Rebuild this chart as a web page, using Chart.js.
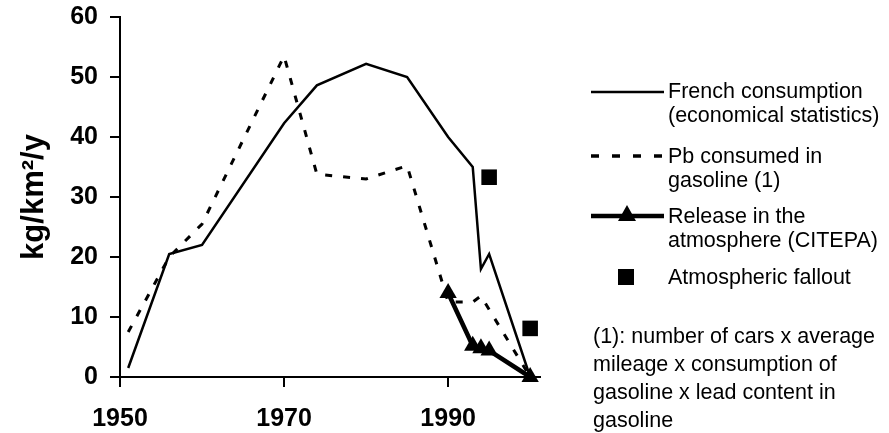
<!DOCTYPE html>
<html>
<head>
<meta charset="utf-8">
<script src="https://cdn.jsdelivr.net/npm/chart.js@4.4.1/dist/chart.umd.min.js"></script>
<style>
    body { margin: 0; background: #fff; }
    #wrap { position: relative; width: 889px; height: 433px; font-family: "Liberation Sans", Arial, sans-serif; color: #000; }
    #wrap canvas { position: absolute; left: 0; top: 0; }
    .leg { position: absolute; left: 668px; font-size: 21.5px; line-height: 24px; white-space: nowrap; }
    .sample { position: absolute; left: 588px; }
    .note { position: absolute; left: 593px; top: 322px; font-size: 21.5px; line-height: 28px; white-space: nowrap; }
</style>
</head>
<body>
<div id="wrap">
    <canvas id="leadChart" width="889" height="433"></canvas>

    <svg class="sample" style="top:80px" width="80" height="24"><line x1="3" y1="12" x2="76" y2="12" stroke="#000" stroke-width="2.5"/></svg>
    <div class="leg" style="top:79px">French consumption<br>(economical statistics)</div>

    <svg class="sample" style="top:144px" width="80" height="24"><line x1="3" y1="12" x2="76" y2="12" stroke="#000" stroke-width="3.5" stroke-dasharray="8 13"/></svg>
    <div class="leg" style="top:144px">Pb consumed in<br>gasoline (1)</div>

    <svg class="sample" style="top:202px" width="80" height="28"><line x1="3" y1="14" x2="76" y2="14" stroke="#000" stroke-width="4.5"/><polygon points="39,3 48,19 30,19" fill="#000"/></svg>
    <div class="leg" style="top:204px">Release in the<br>atmosphere (CITEPA)</div>

    <svg class="sample" style="top:265px" width="80" height="24"><rect x="30" y="4" width="16" height="16" fill="#000"/></svg>
    <div class="leg" style="top:265px">Atmospheric fallout</div>

    <div class="note">(1): number of cars x average<br>mileage x consumption of<br>gasoline x lead content in<br>gasoline</div>
</div>

<script>
// axis ticks
const xTicks = [1950, 1970, 1990];
const yTicks = [0, 10, 20, 30, 40, 50, 60];

// French consumption (economical statistics)
const frenchYears = [1951, 1956, 1960, 1970, 1974, 1980, 1985, 1990, 1993, 1994, 1995, 2000];
const frenchValues = [1.5, 20.5, 22, 42.3, 48.6, 52.2, 50, 40, 35, 18, 20.5, 0];

// Pb consumed in gasoline (1)
const pbYears = [1951, 1956, 1960, 1970, 1974, 1980, 1985, 1990, 1993, 1994, 2000];
const pbValues = [7.5, 20, 25.5, 53.5, 33.8, 33, 35.2, 12.5, 12.5, 13.5, 0];

// Release in the atmosphere (CITEPA)
const releaseYears = [1990, 1993, 1994, 1995, 2000];
const releaseValues = [14, 5.2, 4.8, 4.4, 0];

// Atmospheric fallout
const falloutYears = [1995, 2000];
const falloutValues = [33.3, 8.1];

const toPoints = (xs, ys) => xs.map((x, i) => ({ x: x, y: ys[i] }));

const tickFont = { family: 'Liberation Sans', size: 25, weight: 'bold' };
const axisGrid = { drawOnChartArea: false, drawTicks: true, tickLength: 10, color: '#000', lineWidth: 2 };

// keep the plot box where the reference has it (labels may overflow)
function noPad(s) {
    s.paddingTop = 0;
    s.paddingBottom = 0;
    s.paddingLeft = 0;
    s.paddingRight = 0;
}

new Chart(document.getElementById('leadChart'), {
    type: 'line',
    data: {
        datasets: [
            {
                label: 'Atmospheric fallout',
                data: toPoints(falloutYears, falloutValues),
                showLine: false,
                pointStyle: 'rect',
                pointRadius: 11,
                backgroundColor: '#000',
                borderColor: '#000',
                borderWidth: 0,
                clip: false
            },
            {
                label: 'Release in the atmosphere (CITEPA)',
                data: toPoints(releaseYears, releaseValues),
                borderColor: '#000',
                backgroundColor: '#000',
                borderWidth: 4.5,
                pointStyle: 'triangle',
                pointRadius: 10,
                pointBorderWidth: 0,
                clip: false
            },
            {
                label: 'French consumption (economical statistics)',
                data: toPoints(frenchYears, frenchValues),
                borderColor: '#000',
                borderWidth: 2.5,
                pointRadius: 0,
                clip: false
            },
            {
                label: 'Pb consumed in gasoline (1)',
                data: toPoints(pbYears, pbValues),
                borderColor: '#000',
                borderWidth: 3,
                borderDash: [7, 11],
                pointRadius: 0,
                clip: false
            }
        ]
    },
    options: {
        responsive: false,
        animation: false,
        layout: { padding: { left: 0, right: 349, top: 17, bottom: 0 } },
        plugins: { legend: { display: false }, tooltip: { enabled: false } },
        scales: {
            x: {
                type: 'linear',
                min: 1950,
                max: 2001.2,
                afterBuildTicks: s => { s.ticks = xTicks.map(v => ({ value: v })); },
                afterFit: s => { s.height = 56; noPad(s); },
                grid: axisGrid,
                border: { color: '#000', width: 2 },
                ticks: { color: '#000', font: tickFont, padding: 17, maxRotation: 0, callback: v => String(v) }
            },
            y: {
                min: 0,
                max: 60,
                afterBuildTicks: s => { s.ticks = yTicks.map(v => ({ value: v })); },
                afterFit: s => { s.width = 120; noPad(s); },
                grid: axisGrid,
                border: { color: '#000', width: 2 },
                ticks: { color: '#000', font: tickFont, padding: 12 },
                title: {
                    display: true,
                    text: 'kg/km²/y',
                    color: '#000',
                    font: { family: 'Liberation Sans', size: 31, weight: 'bold' },
                    padding: { top: 16, bottom: 0 }
                }
            }
        }
    }
});
</script>
</body>
</html>
